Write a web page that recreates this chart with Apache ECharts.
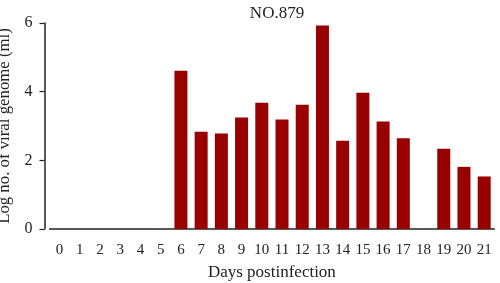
<!DOCTYPE html>
<html>
<head>
<meta charset="utf-8">
<script src="https://cdn.jsdelivr.net/npm/echarts@6/dist/echarts.min.js"></script>
<style>html,body{margin:0;padding:0;background:#fff}#c{width:500px;height:283px}</style>
</head>
<body>
<div id="c"></div>
<script>
const days = ['0','1','2','3','4','5','6','7','8','9','10','11','12','13','14','15','16','17','18','19','20','21'];
const logGenome = [0,0,0,0,0,0,4.61,2.83,2.78,3.25,3.68,3.19,3.62,5.93,2.57,3.97,3.13,2.64,0,2.34,1.81,1.53];
const yTicks = [0,2,4,6];

const font = 'Liberation Serif';
const chart = echarts.init(document.getElementById('c'));
chart.setOption({
  animation: false,
  title: {
    text: 'NO.879', left: 272, top: 0, textAlign: 'center',
    textStyle: {fontFamily: font, fontSize: 17, fontWeight: 'normal', color: '#222'}
  },
  grid: {left: 49.5, right: 5.7, top: 23, bottom: 54, outerBoundsMode: 'none', containLabel: false},
  xAxis: {
    type: 'category', data: days,
    name: 'Days postinfection', nameLocation: 'middle', nameGap: 35,
    nameTextStyle: {fontFamily: font, fontSize: 17, color: '#222', verticalAlign: 'top'},
    axisLine: {lineStyle: {color: '#222', width: 1.5}},
    axisTick: {alignWithLabel: true, length: 6, lineStyle: {color: '#222', width: 1.2}},
    axisLabel: {fontFamily: font, fontSize: 15, color: '#222', margin: 14, interval: 0}
  },
  yAxis: {
    type: 'value', min: 0, max: 6, interval: 2, offset: 5,
    name: 'Log no. of viral genome (ml)', nameLocation: 'middle', nameGap: 26,
    nameTextStyle: {fontFamily: font, fontSize: 16.8, color: '#222'},
    axisLine: {show: true, lineStyle: {color: '#222', width: 1.5}},
    axisTick: {show: true, length: 5, lineStyle: {color: '#222', width: 1.2}},
    axisLabel: {fontFamily: font, fontSize: 16, color: '#222', margin: 12,
      formatter: v => yTicks.includes(v) ? String(v) : ''},
    splitLine: {show: false}
  },
  series: [{
    type: 'bar', data: logGenome, barWidth: 13,
    itemStyle: {color: '#990000', borderWidth: 0}
  }]
});
</script>
</body>
</html>
